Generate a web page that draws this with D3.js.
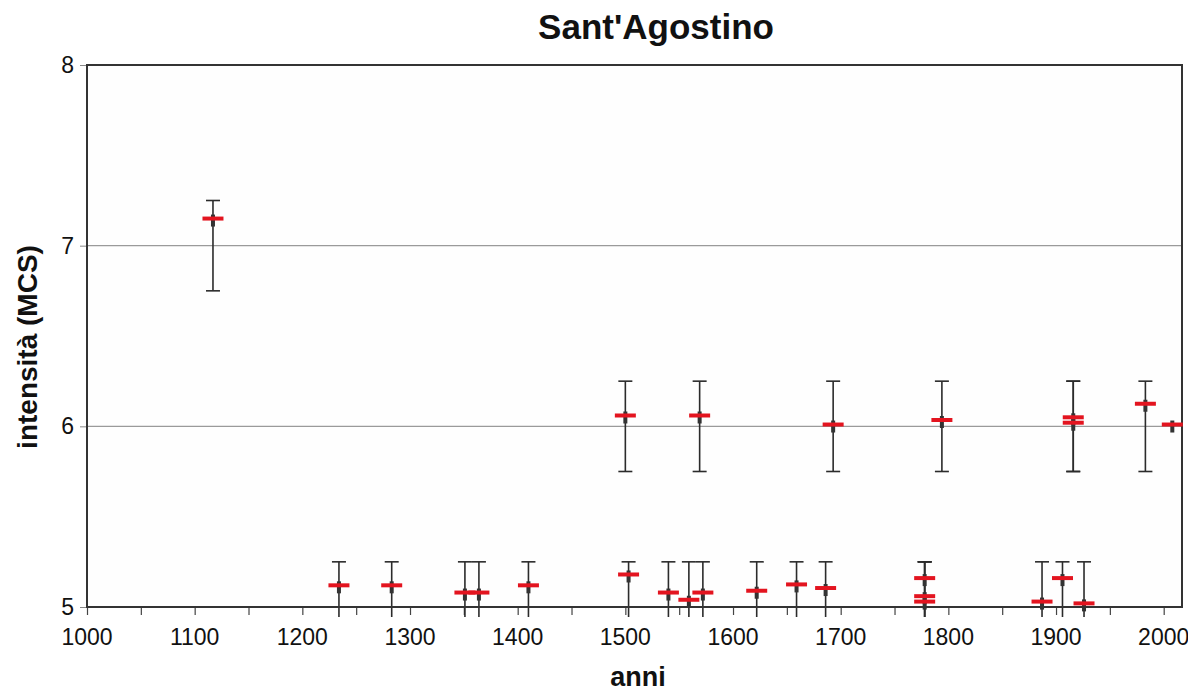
<!DOCTYPE html>
<html>
<head>
<meta charset="utf-8">
<script src="https://cdn.jsdelivr.net/npm/d3@7"></script>
<style>
  body { margin: 0; background: #fff; }
  svg { font-family: "Liberation Sans", Arial, Helvetica, sans-serif; }
</style>
</head>
<body>
<svg id="chart" width="1188" height="691"></svg>
<script>
// data
const anni     = [1117, 1234, 1283, 1351, 1364, 1410, 1500, 1503, 1540, 1559, 1569, 1572, 1622, 1659, 1686, 1693, 1778, 1778, 1778, 1794, 1887, 1906, 1916, 1916, 1926, 1983, 2008];
const intensita = [7.15, 5.12, 5.12, 5.08, 5.08, 5.12, 6.06, 5.18, 5.08, 5.04, 6.06, 5.08, 5.09, 5.125, 5.105, 6.01, 5.16, 5.06, 5.03, 6.035, 5.03, 5.16, 6.05, 6.02, 5.02, 6.125, 6.01];
const errMin   = [6.75, 4.75, 4.75, 4.75, 4.75, 4.75, 5.75, 4.75, 4.75, 4.75, 5.75, 4.75, 4.75, 4.75, 4.75, 5.75, 4.75, 4.75, 4.75, 5.75, 4.75, 4.75, 5.75, 5.75, 4.75, 5.75, 6.01];
const errMax   = [7.25, 5.25, 5.25, 5.25, 5.25, 5.25, 6.25, 5.25, 5.25, 5.25, 6.25, 5.25, 5.25, 5.25, 5.25, 6.25, 5.25, 5.25, 5.25, 6.25, 5.25, 5.25, 6.25, 6.25, 5.25, 6.25, 6.01];
const xTicks = [1000, 1100, 1200, 1300, 1400, 1500, 1600, 1700, 1800, 1900, 2000];
const yTicks = [5, 6, 7, 8];

const data = anni.map((a, i) => ({anno: a, val: intensita[i], lo: errMin[i], hi: errMax[i]}));

let svg = d3.select('#chart');
let margin = {left: 87, top: 65, right: 6, bottom: 84};
let w = 1188 - margin.left - margin.right;
let h = 691 - margin.top - margin.bottom;

let x = d3.scaleLinear().domain([1000, 2017]).range([0, w]);
let y = d3.scaleLinear().domain([5, 8]).range([h, 0]);

let g = svg.append('g').attr('transform', `translate(${margin.left},${margin.top})`);

g.append('rect').attr('width', w).attr('height', h).attr('fill', '#fefefe');

// gridlines
g.selectAll('.grid')
    .data([6, 7])
    .enter()
    .append('line')
    .attr('x1', 0).attr('x2', w)
    .attr('y1', d => y(d)).attr('y2', d => y(d))
    .attr('stroke', '#9a9a9a').attr('stroke-width', 1.3);

// x axis (minor ticks every 50)
let xAxis = g.append('g')
    .attr('transform', `translate(0,${h})`)
    .call(d3.axisBottom(x).tickValues(d3.range(1000, 2017, 50)).tickSize(8).tickFormat(''));
xAxis.select('.domain').remove();
xAxis.selectAll('line').attr('stroke', '#444').attr('stroke-width', 1.2);

g.selectAll('.xlab')
    .data(xTicks)
    .enter()
    .append('text')
    .attr('x', d => x(d))
    .attr('y', h + 38)
    .attr('text-anchor', 'middle')
    .attr('font-size', '23px')
    .attr('fill', '#111')
    .text(d => d);

// y axis
let yAxis = g.append('g')
    .call(d3.axisLeft(y).tickValues(yTicks).tickSize(7).tickPadding(6).tickFormat(d3.format('d')));
yAxis.select('.domain').remove();
yAxis.selectAll('line').attr('stroke', '#888');
yAxis.selectAll('text').attr('font-size', '23px').attr('fill', '#111').attr('font-family', 'Liberation Sans, Arial, sans-serif');

// clip so the lower bars stop a little under the axis
svg.append('defs').append('clipPath').attr('id', 'clipBars')
    .append('rect').attr('x', -10).attr('y', -10).attr('width', w + 20).attr('height', h + 20);

let bars = g.append('g').attr('clip-path', 'url(#clipBars)');

let withBar = data.filter(d => d.hi > d.lo);

bars.selectAll('.errv')
    .data(withBar)
    .enter()
    .append('line')
    .attr('x1', d => x(d.anno)).attr('x2', d => x(d.anno))
    .attr('y1', d => y(d.hi)).attr('y2', d => y(d.lo))
    .attr('stroke', '#2b2b2b').attr('stroke-width', 1.6);

bars.selectAll('.capTop')
    .data(withBar)
    .enter()
    .append('line')
    .attr('x1', d => x(d.anno) - 7).attr('x2', d => x(d.anno) + 7)
    .attr('y1', d => y(d.hi)).attr('y2', d => y(d.hi))
    .attr('stroke', '#2b2b2b').attr('stroke-width', 1.6);

bars.selectAll('.capBot')
    .data(withBar)
    .enter()
    .append('line')
    .attr('x1', d => x(d.anno) - 7).attr('x2', d => x(d.anno) + 7)
    .attr('y1', d => y(d.lo)).attr('y2', d => y(d.lo))
    .attr('stroke', '#2b2b2b').attr('stroke-width', 1.6);

// small dark marker under each point
g.selectAll('.mark')
    .data(data)
    .enter()
    .append('rect')
    .attr('x', d => x(d.anno) - 2)
    .attr('y', d => y(d.val) - 4)
    .attr('width', 4)
    .attr('height', 12)
    .attr('fill', '#333');

// plot frame
g.append('rect').attr('width', w).attr('height', h)
    .attr('fill', 'none').attr('stroke', '#333').attr('stroke-width', 2);

// red dashes
g.selectAll('.val')
    .data(data)
    .enter()
    .append('line')
    .attr('x1', d => x(d.anno) - 10.5).attr('x2', d => x(d.anno) + 10.5)
    .attr('y1', d => y(d.val)).attr('y2', d => y(d.val))
    .attr('stroke', '#e3141f').attr('stroke-width', 4);

// titles
svg.append('text')
    .attr('x', 656).attr('y', 39)
    .attr('text-anchor', 'middle')
    .attr('font-size', '35px').attr('font-weight', 'bold')
    .attr('fill', '#111')
    .text("Sant'Agostino");

svg.append('text')
    .attr('x', 638).attr('y', 686)
    .attr('text-anchor', 'middle')
    .attr('font-size', '27px').attr('font-weight', 'bold')
    .attr('fill', '#111')
    .text('anni');

svg.append('text')
    .attr('transform', 'translate(37,347) rotate(-90)')
    .attr('text-anchor', 'middle')
    .attr('font-size', '28px').attr('font-weight', 'bold')
    .attr('fill', '#111')
    .text('intensità (MCS)');
</script>
</body>
</html>
